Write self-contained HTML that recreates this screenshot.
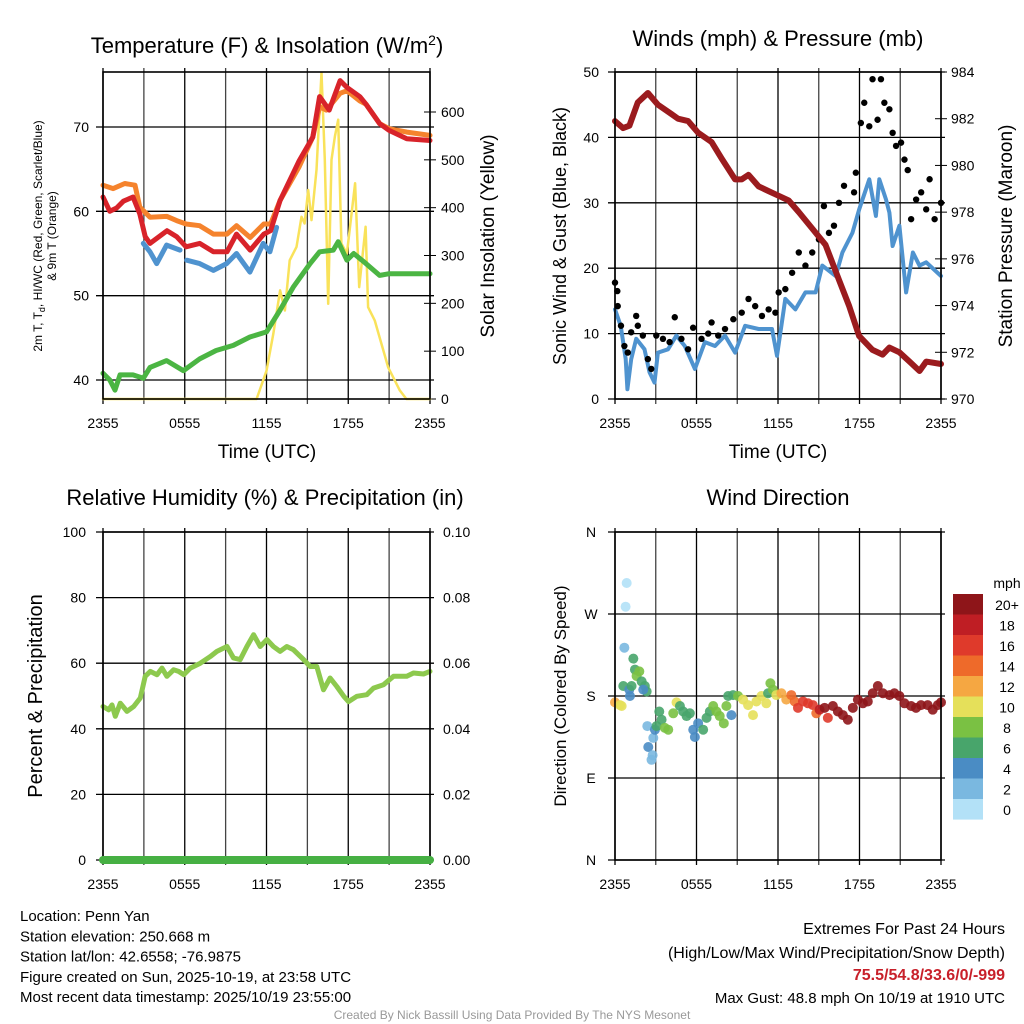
<!DOCTYPE html>
<html><head><meta charset="utf-8"><style>
body{margin:0;background:#fff;}
svg{display:block;font-family:"Liberation Sans",sans-serif;}
</style></head><body>
<svg id="c" width="1024" height="1024" viewBox="0 0 1024 1024" xmlns="http://www.w3.org/2000/svg"></svg>
<script>
// ---- data ----
const xTickLabels=["2355","0555","1155","1755","2355"];
const tempLeftTicks=[40,50,60,70];
const solarTicks=[0,100,200,300,400,500,600];
const windTicks=[0,10,20,30,40,50];
const presTicks=[970,972,974,976,978,980,982,984];
const rhTicks=[0,20,40,60,80,100];
const precipTicks=["0.00","0.02","0.04","0.06","0.08","0.10"];
const dirLabels=["N","W","S","E","N"];
const speedBins=["20+","18","16","14","12","10","8","6","4","2","0"];

const orangeT=[0,0.75,1.6,2.35,2.7,3.45,4.7,5.4,6.1,7.1,8.1,9.1,9.8,10.8,11.8,12.3,13,14.4,15.4,15.9,16.4,17.4,17.9,18.85,19.3,20.3,21,22.3,24];
const orangeV=[63.1,62.7,63.3,63.1,60.5,59.3,59.4,58.9,58.5,58.3,57.3,57.3,58.3,56.9,58.5,58.5,61.3,65.3,68.8,72.4,72,74,74.3,73.1,72.7,70.4,69.8,69.4,69.0];
const redT=[0,0.5,1,1.5,2.2,2.7,3.1,3.45,4.7,5.4,6.1,7.1,8.1,9.1,9.8,10.8,11.8,12.3,13,14.4,15.4,15.9,16.6,17.4,17.9,18.85,19.3,20.3,21,22.3,24];
const redV=[61.7,60,60.4,61.2,61.7,59.7,57,56.2,57.7,57,55.8,56.2,55.2,55.2,57.3,55.4,57.3,57.7,61.3,66,68.8,73.6,72,75.5,74.7,73.6,72.7,70.4,69.6,68.6,68.4];
const blueT=[2.96,3.45,3.94,4.67,5.65,null,6.14,7.1,8.1,9.07,9.8,10.78,11.76,12.25,12.74];
const blueV=[56.2,55.2,53.8,56,55.4,null,54.2,53.8,53,53.8,55,52.8,56.2,55.2,58.1];
const greenT=[0,0.5,0.88,1.25,2.2,2.96,3.45,4.67,5.9,7.1,8.3,9.56,10.78,12,13,13.96,15.2,15.9,16.9,17.26,17.9,18.4,19.3,20.3,21,22.3,24];
const greenV=[40.8,40,38.8,40.6,40.6,40.2,41.5,42.3,41.1,42.5,43.5,44.1,45.1,45.7,48.3,51,53.8,55.2,55.4,56.4,54.2,55,53.8,52.4,52.6,52.6,52.6];
const solarT=[0,11.27,12,12.5,13,13.35,13.7,14.2,14.57,14.8,15.06,15.3,15.67,16.04,16.28,16.53,16.77,17.02,17.26,17.5,17.9,18.5,18.8,19.27,19.46,19.95,20.44,20.93,21.78,22.27,24];
const solarV=[0,0,59,136,227,185,290,318,381,367,437,374,479,682,500,199,500,549,584,325,304,451,234,360,192,164,115,66,18,0,0];
const presT=[0,0.6,1.06,1.68,2.42,3.16,4.15,4.64,5.38,6.12,7.11,7.85,8.84,9.33,9.83,10.57,11.31,12.05,12.79,13.53,14.52,15.5,16.49,17.23,17.97,18.96,19.7,20.2,20.94,21.68,22.42,22.91,24];
const presV=[981.9,981.6,981.7,982.7,983.1,982.6,982.2,982,981.9,981.4,981,980.3,979.4,979.4,979.6,979.1,978.9,978.7,978.5,978,977.3,976.6,975.1,974,972.7,972.1,971.9,972.2,972,971.6,971.2,971.6,971.5];
const windT=[0,0.42,0.79,0.91,1.19,1.56,2.17,2.54,2.91,3.16,3.9,4.52,5.14,5.88,6.62,7.36,8.1,8.84,9.58,10.57,11.56,11.93,12.54,13.28,14.02,14.77,15.26,16.25,16.74,17.48,17.98,18.72,19.21,19.46,19.95,20.2,20.44,20.94,21.43,21.93,22.42,22.91,24];
const windV=[13.7,11.2,6.1,1.5,6.1,9.2,7.6,4.1,2.5,7.1,7.6,9.7,8.1,4.6,8.7,8.1,9.7,7.1,11.2,10.7,10.7,6.6,15.3,13.7,16.3,16.3,20.4,18.8,22.4,25.4,29,33.6,28,33.6,30.5,28.5,23.4,26.5,16.3,22.4,20.4,20.9,18.8];
const gustT=[0,0.17,0.2,0.44,0.69,0.94,1.19,1.56,1.68,2.05,2.42,2.67,3.04,3.53,4.02,4.4,4.89,5.38,5.75,6.37,6.86,7.11,7.6,8.1,8.71,9.33,9.83,10.32,10.82,11.31,11.81,12.05,12.54,13.04,13.53,14.02,14.52,15.01,15.38,15.75,16.12,16.49,16.86,17.6,17.73,18.1,18.35,18.72,18.96,19.33,19.58,19.83,20.2,20.44,20.69,21.06,21.31,21.55,21.8,22.17,22.54,22.91,23.16,23.53,24];
const gustV=[17.8,16.5,14.2,11.2,8.1,7.1,10.2,12.7,11.2,9.7,6.1,4.6,9.7,9.2,8.7,12.5,9.2,7.6,10.9,9.2,10,11.7,9.7,10.7,12.2,13.2,15.3,14.2,12.7,13.7,13.2,16.3,16.8,19.3,22.4,20.4,22.4,24.4,29.5,25.4,26.5,30,32.6,31.6,34.6,42.2,45.3,41.7,48.9,42.7,48.9,45.3,44.3,40.7,38.7,39.2,36.6,35,27.5,30.5,31.6,29,33.6,27.5,30];
const rhT=[0,0.42,0.66,0.9,1.27,1.76,2.25,2.74,3.1,3.47,3.96,4.33,4.69,5.18,5.55,5.92,6.41,7.14,7.87,8.36,8.85,9.1,9.58,10.07,10.56,11.05,11.54,12.03,12.51,13,13.49,13.98,14.72,15.2,15.69,16.18,16.67,17.16,17.67,18.02,18.63,19.36,19.85,20.58,21.32,22.3,22.79,23.52,24];
const rhV=[46.8,45.8,47.3,43.8,47.8,45.3,46.8,49.4,56,57.5,56.5,58.5,56,58,57.5,56.5,58.5,60,62,63.6,64.6,65.1,61.6,61.1,65.1,68.7,65.1,67.2,65.1,63.6,65.1,64.1,61.1,59,59,51.9,55.5,52.9,49.9,48.3,49.9,50.4,52.4,53.4,56,56,57,56.7,57.5];
const precipT=[0,24];
const precipV=[0,0];
const dirT=[0,0.37,0.49,0.86,0.78,0.69,0.61,1.1,1.05,1.22,1.35,1.47,1.59,1.79,1.96,2.2,2.33,2.08,2.38,2.45,2.69,2.77,2.82,2.94,3.06,3.26,3.43,3.67,3.92,4.29,4.53,4.78,5.02,5.27,5.51,5.76,5.88,6.12,6.49,6.74,6.98,7.23,7.47,7.71,8.01,8.2,8.57,8.33,8.69,9.06,9.43,9.8,10.16,10.41,10.78,11.14,11.27,11.44,11.63,11.88,12.25,12.61,12.98,13.23,13.47,13.84,14.21,14.57,14.82,15.06,15.43,15.67,16.04,16.41,16.78,17.14,17.51,17.88,18.25,18.61,18.98,19.35,19.72,20.21,20.57,20.94,21.31,21.8,22.16,22.53,23.02,23.39,23.76,24];
const dirV=[173,170,169,304,278,233,191,180,187,191,221,209,202,207,196,191,185,187,147,124,110,115,134,143,147,163,154,145,143,161,173,169,163,158,161,143,135,150,143,156,163,169,163,158,150,169,159,180,181,180,176,170,159,174,180,172,183,194,187,181,183,176,181,174,167,174,172,170,161,165,167,156,169,163,159,154,167,176,172,174,183,191,183,181,183,180,172,169,167,170,170,165,170,173];
const dirSpd=[12,10,10,0,0,2,6,4,4,6,6,6,8,8,6,6,6,4,2,4,2,2,2,4,6,6,6,8,8,8,10,6,6,6,6,4,4,4,6,6,6,8,8,8,8,8,4,6,6,8,10,10,10,10,10,10,6,8,8,10,12,12,14,14,16,16,16,16,14,18,20,16,20,20,20,20,20,20,20,20,20,20,20,20,20,20,20,20,20,20,20,20,20,20];
const speedColors=["#8e1519","#bf1e24","#df3a2b","#ee6a2a","#f5a742","#e5e05a","#7ac143","#48a56b","#4a8cc4","#7ab8e0","#b3e1f7"];

// ---- drawing ----
const svg=document.getElementById('c');
const NS="http://www.w3.org/2000/svg";
function mk(tag,attrs,parent){const e=document.createElementNS(NS,tag);for(const k in attrs)e.setAttribute(k,attrs[k]);(parent||svg).appendChild(e);return e;}
function txt(s,x,y,size,anchor,extra){const e=mk('text',Object.assign({x:x,y:y,'font-size':size,'text-anchor':anchor||'middle',fill:'#000'},extra||{}));e.textContent=s;return e;}

function panel(L,T,R,B,name){
  const g=mk('g',{});
  
  
  for(let i=0;i<=8;i++){const x=L+(R-L)*i/8;mk('line',{x1:x,y1:T-4,x2:x,y2:B+5,stroke:i%2?'#444':'#000','stroke-width':1.3},g);}
  return g;
}
function xs(L,R){return t=>L+(R-L)*t/24;}
function lin(v0,v1,p0,p1){return v=>p0+(v-v0)/(v1-v0)*(p1-p0);}
function path(T,V,fx,fy,stroke,w,name,parent){
  let d="",pen=false;
  for(let i=0;i<T.length;i++){if(T[i]===null){pen=false;continue;}d+=(pen?"L":"M")+fx(T[i]).toFixed(1)+","+fy(V[i]).toFixed(1);pen=true;}
  const p=mk('path',{d:d,fill:'none',stroke:stroke,'stroke-width':w,'stroke-linejoin':'round','stroke-linecap':'round'},parent);
  
  
  return p;
}
function hgrid(L,R,y,g){mk('line',{x1:L-7,y1:y,x2:R+4,y2:y,stroke:'#000','stroke-width':1.3},g);}
function frame(L,T,R,B,g){mk('rect',{x:L,y:T,width:R-L,height:B-T,fill:'none',stroke:'#000','stroke-width':1.6},g);}
function xlabels(L,R,B,g){xTickLabels.forEach((s,i)=>{const t=txt(s,L+(R-L)*i/4,B+29,14);});}

// Panel 1
{const L=103,T=72,R=430,B=399;const g=panel(L,T,R,B,'temperature-panel');
 const X=xs(L,R),Y=lin(40,70,380,127),YS=lin(0,600,399,112);
 tempLeftTicks.forEach(v=>{hgrid(L,R,Y(v),g);const t=txt(String(v),89,Y(v)+5,14,'end');});
 solarTicks.forEach(v=>{mk('line',{x1:R-6,y1:YS(v),x2:R+6,y2:YS(v),stroke:'#000'},g);const t=txt(String(v),441,YS(v)+5,14,'start');});
 path(solarT,solarV,X,YS,'#f9e25a',2.5,'solar-line',g);
 path(greenT,greenV,X,Y,'#4bb543',5,'dewpoint-line',g);
 path(blueT,blueV,X,Y,'#4f93cf',5,'windchill-line',g);
 path(orangeT,orangeV,X,Y,'#f5832d',5,'temp-9m-line',g);
 path(redT,redV,X,Y,'#d8232a',5,'temp-2m-line',g);
 frame(L,T,R,B,g);xlabels(L,R,B,g);}
// Panel 2
{const L=615,T=72,R=941,B=399;const g=panel(L,T,R,B,'wind-panel');
 const X=xs(L,R),Y=lin(0,50,399,72),YP=lin(970,984,399,72);
 windTicks.forEach(v=>{hgrid(L,R,Y(v),g);const t=txt(String(v),599,Y(v)+5,14,'end');});
 presTicks.forEach(v=>{mk('line',{x1:R-6,y1:YP(v),x2:R+6,y2:YP(v),stroke:'#000'},g);const t=txt(String(v),951,YP(v)+5,14,'start');});
 path(windT,windV,X,Y,'#4f93cf',4,'wind-line',g);
 gustT.forEach((t,i)=>{const c=mk('circle',{cx:X(t),cy:Y(gustV[i]),r:3.2,fill:'#000'},g);});
 path(presT,presV,X,YP,'#9b1b1e',6,'pressure-line',g);
 frame(L,T,R,B,g);xlabels(L,R,B,g);}
// Panel 3
{const L=103,T=532,R=430,B=860;const g=panel(L,T,R,B,'humidity-panel');
 const X=xs(L,R),Y=lin(0,100,860,532),YP=lin(0,0.1,860,532);
 rhTicks.forEach((v,i)=>{hgrid(L,R,Y(v),g);const t=txt(String(v),86,Y(v)+5,14,'end');
   const t2=txt(precipTicks[i],443,Y(v)+5,14,'start');});
 path(rhT,rhV,X,Y,'#8dc94e',5,'rh-line',g);
 frame(L,T,R,B,g);
 path(precipT,precipV,X,YP,'#46b043',8,'precip-line',g);
 xlabels(L,R,B,g);}
// Panel 4
{const L=615,T=532,R=941,B=860;const g=panel(L,T,R,B,'wind-direction-panel');
 const X=xs(L,R),Y=lin(0,360,860,532);
 dirLabels.forEach((s,i)=>{const y=T+(B-T)*i/4;hgrid(L,R,y,g);const t=txt(s,591,y+5,14,'middle');});
 dirT.forEach((t,i)=>{const sp=dirSpd[i]===undefined?20:dirSpd[i];const s=Math.min(20,sp);const c=mk('circle',{cx:X(t),cy:Y(dirV[i]),r:5,fill:speedColors[10-Math.round(s/2)],'fill-opacity':0.9},g);});
 frame(L,T,R,B,g);xlabels(L,R,B,g);
 const cb=mk('g',{});
 speedBins.forEach((s,i)=>{mk('rect',{x:953,y:594+i*20.5,width:30,height:20.6,fill:speedColors[i]},cb);txt(s,1007,594+i*20.5+16,14,'middle');});
 txt('mph',1007,588,14,'middle');}

// titles
function T(s,x,y,size,name,extra){const t=txt(s,x,y,size,'middle',extra);return t;}
{const t=T('',267,53,22,'temp-title');t.innerHTML='Temperature (F) &amp; Insolation (W/m<tspan dy="-8" font-size="14">2</tspan><tspan dy="8">)</tspan>';}
T('Winds (mph) & Pressure (mb)',778,46,22,'wind-title');
T('Relative Humidity (%) & Precipitation (in)',265,505,22,'rh-title');
T('Wind Direction',778,505,22,'direction-title');
T('Time (UTC)',267,458,19,'x-axis-title');
T('Time (UTC)',778,458,19,'x-axis-title-2');
T('Solar Insolation (Yellow)',494,236,19,'solar-axis-title',{transform:'rotate(-90 494 236)'});
{const t=T('',42,236,12,'temp-axis-title',{transform:'rotate(-90 42 236)'});t.innerHTML='2m T, T<tspan dy="3" font-size="9">d</tspan><tspan dy="-3">, HI/WC (Red, Green, Scarlet/Blue)</tspan>';}
T('& 9m T (Orange)',56,236,12,'temp-axis-title-2',{transform:'rotate(-90 56 236)'});
T('Sonic Wind & Gust (Blue, Black)',566,236,18,'wind-axis-title',{transform:'rotate(-90 566 236)'});
T('Station Pressure (Maroon)',1012,236,19,'pressure-axis-title',{transform:'rotate(-90 1012 236)'});
T('Percent & Precipitation',42,696,20,'rh-axis-title',{transform:'rotate(-90 42 696)'});
T('Direction (Colored By Speed)',566,696,17,'direction-axis-title',{transform:'rotate(-90 566 696)'});

// info text
const infoLines=["Location: Penn Yan","Station elevation: 250.668 m","Station lat/lon: 42.6558; -76.9875","Figure created on Sun, 2025-10-19, at 23:58 UTC","Most recent data timestamp: 2025/10/19 23:55:00"];
infoLines.forEach((s,i)=>{const t=txt(s,20,921+i*20.3,15,'start');});
{const t=txt('Extremes For Past 24 Hours',1005,934,16,'end');}
{const t=txt('(High/Low/Max Wind/Precipitation/Snow Depth)',1005,958,16,'end');}
{const t=txt('75.5/54.8/33.6/0/-999',1005,980,16,'end',{fill:'#c8202a','font-weight':'bold'});}
{const t=txt('Max Gust: 48.8 mph On 10/19 at 1910 UTC',1005,1003,15,'end');}
{const t=txt('Created By Nick Bassill Using Data Provided By The NYS Mesonet',512,1019,12,'middle',{fill:'#999'});}
</script>
</body></html>
